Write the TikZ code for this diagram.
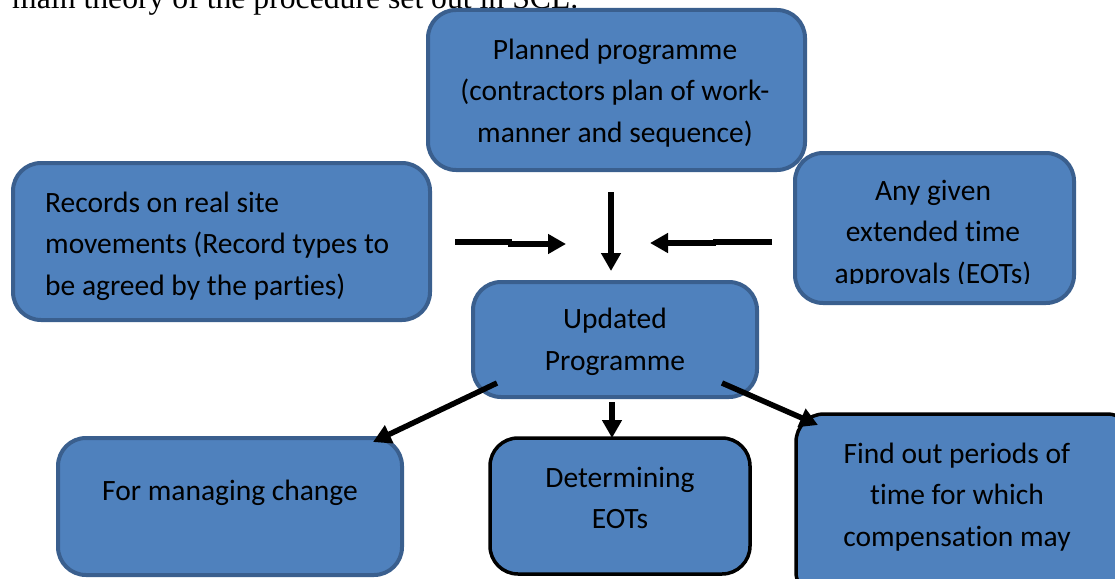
\documentclass[tikz,border=0pt]{standalone}
\usepackage{fontspec}
\setmainfont{Carlito}[Ligatures=NoCommon]
\newfontfamily\serifdoc{Liberation Serif}
\usetikzlibrary{arrows.meta}
\definecolor{boxfill}{HTML}{4F81BD}
\definecolor{boxline}{HTML}{3A5F8E}
\tikzset{
  box/.style={draw=boxline, line width=4pt, fill=boxfill, rounded corners=28pt},
  boxk/.style={draw=black, line width=3.5pt, fill=boxfill, rounded corners=28pt},
  lbl/.style={inner sep=0pt, font=\fontsize{29.5}{41.5}\selectfont, text=black},
  arr/.style={line width=5.5pt, -{Triangle[length=18pt,width=19pt]}},
  seg/.style={line width=5.5pt},
}
\begin{document}
\begin{tikzpicture}[x=1pt,y=-1pt]
\useasboundingbox (0,0) rectangle (1115,578);
\clip (0,0) rectangle (1115,578);
% cut-off text above the figure
\node[anchor=base west, inner sep=0pt, font=\serifdoc\fontsize{31.7}{36}\selectfont] (toptext) at (12,8.5) {main theory of the procedure set out in SCL.};
% boxes
\draw[box] (428,10) rectangle (805,170);
\node[lbl, align=center] (plan) at (615,93) {Planned programme\\(contractors plan of work-\\manner and sequence)};
\draw[box] (13,163) rectangle (430,320);
\node[lbl, align=left, anchor=west] (rec) at (45,246) {Records on real site\\movements (Record types to\\be agreed by the parties)};
\draw[box] (795,153) rectangle (1074,303);
\begin{scope}
\clip (800,160) rectangle (1070,283);
\node[lbl, align=center] (eot) at (933,234) {Any given\\extended time\\approvals (EOTs)};
\end{scope}
\draw[box] (473,282) rectangle (757,397);
\node[lbl, align=center] (upd) at (615,342) {Updated\\Programme};
\draw[box] (58,438) rectangle (402,575);
\node[lbl] (chg) at (230,493) {For managing change};
\draw[boxk] (490,438) rectangle (750,574);
\node[lbl, align=center] (det) at (620,498) {Determining\\EOTs};
\draw[boxk] (796,414) rectangle (1135,600);
\node[lbl, align=center] (comp) at (957,497) {Find out periods of\\time for which\\compensation may};
% connector end points
\coordinate (la) at (455,242);
\coordinate (lb) at (512,242);
\coordinate (lc) at (508,244);
\coordinate (ld) at (566,244);
\coordinate (ra) at (772,242);
\coordinate (rb) at (713,242);
\coordinate (rc) at (716,243);
\coordinate (rd) at (650,243);
\coordinate (da) at (611,192);
\coordinate (db) at (611,271);
\coordinate (ua) at (497,383);
\coordinate (ub) at (373,442);
\coordinate (uc) at (612,402);
\coordinate (ud) at (612,438);
\coordinate (ue) at (722,383);
\coordinate (uf) at (818,425);
% connectors
\draw[seg] (la) -- (lb);
\draw[arr] (lc) -- (ld);
\draw[seg] (ra) -- (rb);
\draw[arr] (rc) -- (rd);
\draw[arr] (da) -- (db);
\draw[arr] (ua) -- (ub);
\draw[arr] (uc) -- (ud);
\draw[arr] (ue) -- (uf);
\end{tikzpicture}
\end{document}
